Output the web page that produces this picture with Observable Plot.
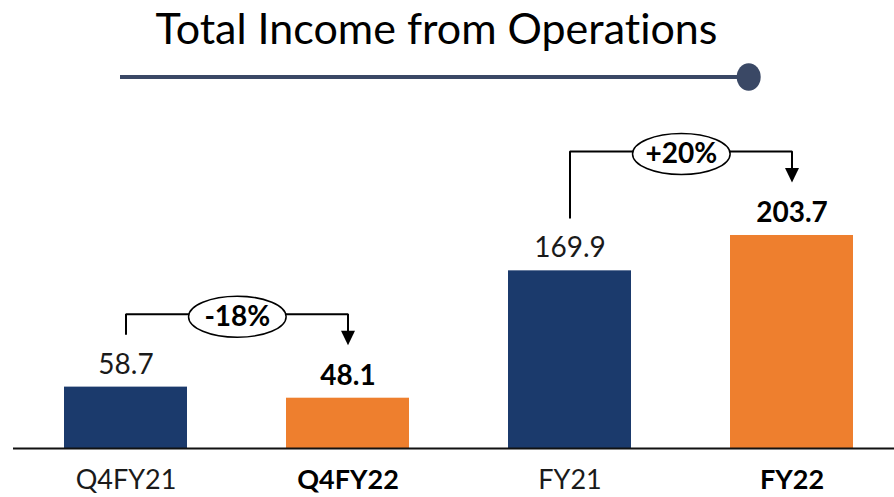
<!DOCTYPE html>
<html>
<head>
<meta charset="utf-8">
<script src="https://cdn.jsdelivr.net/npm/d3@7"></script>
<script src="https://cdn.jsdelivr.net/npm/@observablehq/plot@0.6"></script>
<style>
  html, body { margin: 0; padding: 0; background: #fff; }
  #hdr { display: block; }
  #chart svg { display: block; font-variant-ligatures: none; }
  #hdr text { font-variant-ligatures: none; }
</style>
</head>
<body>
<svg id="hdr" width="894" height="100">
  <text x="436.5" y="43.5" text-anchor="middle" font-family="Lato" font-size="43" fill="#000">Total Income from Operations</text>
  <line x1="120" y1="77" x2="746" y2="77" stroke="#3a4865" stroke-width="4"/>
  <ellipse cx="748.7" cy="77" rx="12" ry="13.7" fill="#3a4865"/>
</svg>
<div id="chart"></div>
<script>
// ---- data ----
const categories = ["Q4FY21", "Q4FY22", "FY21", "FY22"];
const values = [58.7, 48.1, 169.9, 203.7];
const highlighted = [false, true, false, true];
const barColors = ["#1b3a6c", "#ee7f2e", "#1b3a6c", "#ee7f2e"];
const changeFrom = ["Q4FY21", "FY21"];
const changeTo = ["Q4FY22", "FY22"];
const changeLabels = ["-18%", "+20%"];

// ---- layout ----
const H = 397, BASE = 348, K = 1.0457; // px per unit
const rangeX = [18.5, 898.5], pIn = 0.448, pOut = 0.2;
const step = (rangeX[1] - rangeX[0]) / (categories.length - pIn + 2 * pOut);

const data = categories.map((c, i) => ({c, v: values[i], bold: highlighted[i], color: barColors[i]}));
const valOf = Object.fromEntries(data.map(d => [d.c, d.v]));

const ann = changeFrom.map((f, i) => {
  const v1 = valOf[f], v2 = valOf[changeTo[i]];
  const tip = v2 + 53 / K;
  const level = tip + 31 / K;
  return {i, from: f, to: changeTo[i], label: changeLabels[i], start: v1 + 53 / K, level, tip};
});
const bracketPts = ann.flatMap(a => [
  {k: a.i, x: a.from, y: a.start},
  {k: a.i, x: a.from, y: a.level},
  {k: a.i, x: a.to, y: a.level},
  {k: a.i, x: a.to, y: a.tip + 6 / K}
]);

const arrowHead = {
  draw(ctx) {
    ctx.moveTo(-7, -14.5);
    ctx.lineTo(7, -14.5);
    ctx.lineTo(0, 0);
    ctx.closePath();
  }
};
const ellipseSym = {
  draw(ctx, size) {
    const ry = Math.sqrt(size / Math.PI), rx = ry * 2.38, k = 0.5522847498;
    ctx.moveTo(rx, 0);
    ctx.bezierCurveTo(rx, ry * k, rx * k, ry, 0, ry);
    ctx.bezierCurveTo(-rx * k, ry, -rx, ry * k, -rx, 0);
    ctx.bezierCurveTo(-rx, -ry * k, -rx * k, -ry, 0, -ry);
    ctx.bezierCurveTo(rx * k, -ry, rx, -ry * k, rx, 0);
    ctx.closePath();
  }
};

const chart = Plot.plot({
  width: 894,
  height: H,
  marginLeft: 13,
  marginRight: 0,
  marginTop: 0,
  marginBottom: H - BASE,
  x: {type: "band", domain: categories, range: rangeX, paddingInner: pIn, paddingOuter: pOut, axis: null},
  y: {domain: [0, 250], range: [BASE, BASE - 250 * K], axis: null},
  color: {type: "identity"},
  style: {fontFamily: "Lato", background: "white", overflow: "visible"},
  marks: [
    Plot.barY(data, {x: "c", y: "v", fill: "color"}),
    Plot.ruleY([0], {stroke: "#111", strokeWidth: 1.8}),
    Plot.text(data.filter(d => !d.bold), {x: "c", y: "v", text: d => d.v.toFixed(1), dy: -22.5, fontSize: 28, lineAnchor: "middle", fill: "#1a1a1a"}),
    Plot.text(data.filter(d => d.bold), {x: "c", y: "v", text: d => d.v.toFixed(1), dy: -22.5, fontSize: 28, fontWeight: "bold", lineAnchor: "middle", fill: "#000"}),
    Plot.text(data.filter(d => !d.bold), {x: "c", y: () => 0, text: "c", dy: 32, fontSize: 27, lineAnchor: "middle", fill: "#1a1a1a"}),
    Plot.text(data.filter(d => d.bold), {x: "c", y: () => 0, text: "c", dy: 32, fontSize: 27, fontWeight: "bold", lineAnchor: "middle", fill: "#000"}),
    Plot.line(bracketPts, {x: "x", y: "y", z: "k", stroke: "#000", strokeWidth: 2, strokeLinejoin: "miter", curve: "linear"}),
    Plot.dot(ann, {x: "from", y: "level", dx: step / 2, dy: 2.5, r: 20.5, symbol: ellipseSym, fill: "white", stroke: "#000", strokeWidth: 1.5}),
    Plot.text(ann, {x: "from", y: "level", dx: step / 2, dy: 2.5, text: "label", fontSize: 28, fontWeight: "bold", lineAnchor: "middle", fill: "#000"}),
    Plot.dot(ann, {x: "to", y: "tip", r: 5, symbol: arrowHead, fill: "#000", stroke: "none"})
  ]
});
document.getElementById("chart").appendChild(chart);
</script>
</body>
</html>
